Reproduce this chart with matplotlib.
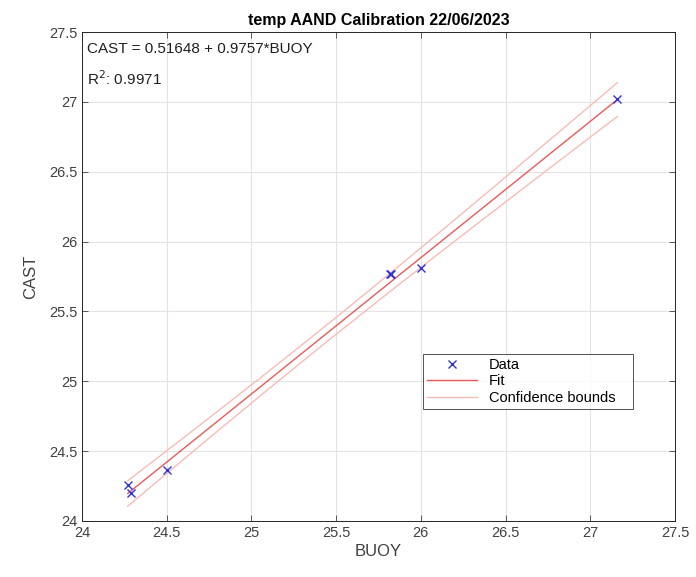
import numpy as np
import matplotlib.pyplot as plt

plt.rcParams['font.family'] = ['Liberation Sans', 'DejaVu Sans']

# calibration data
buoy = [24.27, 24.29, 24.50, 25.82, 25.825, 26.00, 27.16]
cast = [24.26, 24.20, 24.365, 25.765, 25.77, 25.81, 27.02]

intercept = 0.51648
slope = 0.9757
r2 = 0.9971
t_crit = 2.5706  # t(0.975, 5 dof)

x_ticks = [24, 24.5, 25, 25.5, 26, 26.5, 27, 27.5]
y_ticks = [24, 24.5, 25, 25.5, 26, 26.5, 27, 27.5]

buoy = np.array(buoy)
cast = np.array(cast)

# 95% confidence bounds on the fitted line
n = len(buoy)
resid = cast - (intercept + slope * buoy)
s = np.sqrt(np.sum(resid**2) / (n - 2))
sxx = np.sum((buoy - buoy.mean())**2)
xf = np.linspace(buoy.min(), buoy.max(), 200)
yf = intercept + slope * xf
half = t_crit * s * np.sqrt(1.0 / n + (xf - buoy.mean())**2 / sxx)

fig = plt.figure(figsize=(6.96, 5.77), dpi=100)
ax = fig.add_axes([0.1178, 0.0971, 0.852, 0.8474])

ax.plot(buoy, cast, 'x', color='#3333d0', markersize=6, mew=1.0, label='Data', zorder=4)
ax.plot(xf, yf, '-', color='#ea5a58', lw=1.0, label='Fit', zorder=3)
ax.plot(xf, yf + half, '-', color='#f8bcb6', lw=1.0, label='Confidence bounds', zorder=2)
ax.plot(xf, yf - half, '-', color='#f8bcb6', lw=1.0, zorder=2)

ax.set_xlim(24, 27.5)
ax.set_ylim(24, 27.5)
ax.set_xticks(x_ticks)
ax.set_yticks(y_ticks)
ax.set_xticklabels([f'{v:g}' for v in x_ticks])
ax.set_yticklabels([f'{v:g}' for v in y_ticks])
ax.grid(True, color='#e3e3e3', lw=0.8)
ax.set_axisbelow(True)
ax.tick_params(direction='in', top=True, right=True, labelsize=10.5,
               colors='#404040', length=4, width=0.6)
for sp in ax.spines.values():
    sp.set_color('#262626')
    sp.set_linewidth(0.7)

ax.set_xlabel('BUOY', fontsize=12, color='#404040', labelpad=3)
ax.set_ylabel('CAST', fontsize=12, color='#404040', labelpad=8)
ax.set_title('temp AAND Calibration 22/06/2023', fontsize=11.5,
             fontweight='bold', color='black', pad=5)

ax.text(0.008, 0.966, f'CAST = {intercept} + {slope}*BUOY', transform=ax.transAxes,
        fontsize=11, color='#202020', va='center', ha='left')
ax.text(0.008, 0.904, f'R$^2$: {r2}', transform=ax.transAxes,
        fontsize=11, color='#202020', va='center', ha='left')

leg = ax.legend(loc='lower left', bbox_to_anchor=(0.575, 0.229, 0.354, 0.143),
                mode='expand', fontsize=10.5, frameon=True, fancybox=False,
                borderaxespad=0, handlelength=3.4, labelspacing=0.15,
                borderpad=0.3)
leg.get_frame().set_edgecolor('#262626')
leg.get_frame().set_linewidth(0.7)

plt.savefig('out.png', dpi=100)
